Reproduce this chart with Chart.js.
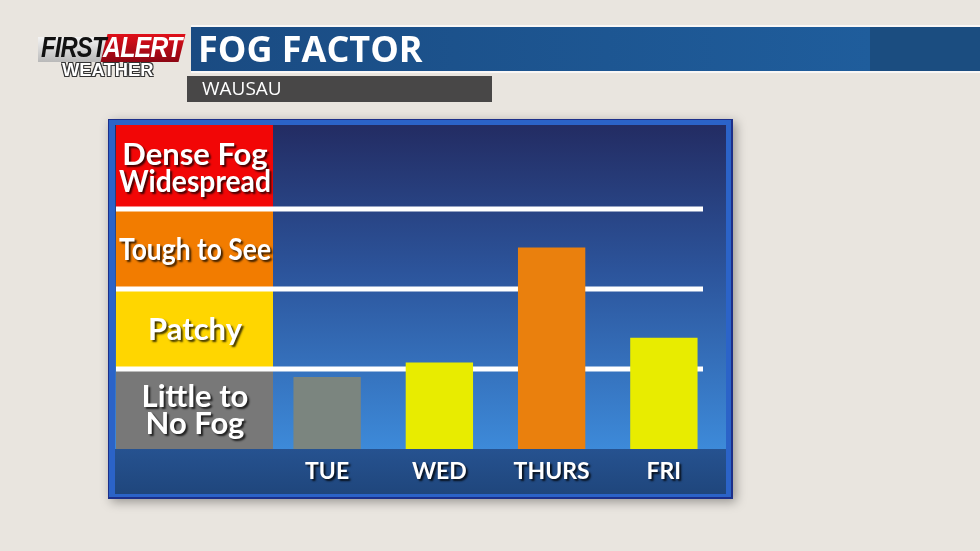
<!DOCTYPE html>
<html>
<head>
<meta charset="utf-8">
<script src="https://cdn.jsdelivr.net/npm/chart.js@4.4.1/dist/chart.umd.min.js"></script>
<style>
  html, body { margin: 0; padding: 0; }
  body { width: 980px; height: 551px; position: relative; overflow: hidden; background: #e9e5df; font-family: 'Open Sans', sans-serif; }
  #fog { position: absolute; left: 0; top: 0; }
  .titlebar { position: absolute; left: 191px; top: 27px; width: 789px; height: 44px;
    background: linear-gradient(90deg, #1a4b82 0%, #1f5d9c 86%, #1b4d80 86%, #1b4d80 100%);
    box-shadow: 0 -2px 0 rgba(255,255,255,0.7), 0 2px 0 rgba(255,255,255,0.7); }
  .titlebar span { position: absolute; left: 7px; top: -3px; color: #fff; font: 700 36px 'Open Sans', sans-serif; letter-spacing: 0px; }
  .subbar { position: absolute; left: 187px; top: 76px; width: 305px; height: 26px; background: rgba(58,58,58,0.92); }
  .subbar span { position: absolute; left: 15px; top: -1px; color: #fff; font: 400 19px 'Open Sans', sans-serif; }
  .logo { position: absolute; left: 36px; top: 34px; width: 150px; height: 46px; }
  .logo .silver { position: absolute; left: 2px; top: 3px; width: 74px; height: 25px;
    background: linear-gradient(180deg, #f4f4f4, #b9b9b9); }
  .logo .red { position: absolute; left: 68px; top: 0px; width: 78px; height: 28px;
    background: linear-gradient(180deg, #e0101a, #8c0613); transform: skewX(-14deg); }
  .logo .first { position: absolute; left: 5px; top: -3px; font: italic 900 29px 'Liberation Sans', sans-serif; color: #111;
    transform: scaleX(0.82); transform-origin: left top; letter-spacing: -1px; }
  .logo .alert { position: absolute; left: 67px; top: -3px; font: italic 900 29px 'Liberation Sans', sans-serif; color: #fff;
    transform: scaleX(0.86); transform-origin: left top; letter-spacing: -1px; }
  .logo .wx { position: absolute; left: 26px; top: 26px; font: 900 18px 'Liberation Sans', sans-serif; color: #fff;
    transform: scaleX(1.02); transform-origin: left top;
    text-shadow: -1px -1px 0 #333, 1px -1px 0 #333, -1px 1px 0 #333, 1px 1px 0 #333; }
</style>
</head>
<body>
<canvas id="fog" width="980" height="551"></canvas>
<div class="logo">
  <div class="silver"></div>
  <div class="red"></div>
  <div class="first">FIRST</div>
  <div class="alert">ALERT</div>
  <div class="wx">WEATHER</div>
</div>
<div class="titlebar"><span>FOG FACTOR</span></div>
<div class="subbar"><span>WAUSAU</span></div>
<script>
const days = ['TUE', 'WED', 'THURS', 'FRI'];
const fogLevel = [0.9, 1.08, 2.52, 1.39];
const barColors = ['#7b857f', '#e8ec00', '#ea800d', '#e8ec00'];

const bandNames = [['Little to', 'No Fog'], ['Patchy'], ['Tough to See'], ['Dense Fog', 'Widespread']];
const bandColors = ['#787878', '#ffd600', '#f27c00', '#f20606'];
const bandLines = [1, 2, 3];

const ctx = document.getElementById('fog').getContext('2d');

const panelPlugin = {
    id: 'panel',
    beforeDraw(chart) {
        const c = chart.ctx;
        const area = chart.chartArea;
        const y = chart.scales.y;
        const left = 108, right = 733, top = 119, bottom = 499;
        const inL = 115, inR = 726, inT = 125, inB = 494;
        const boxR = area.left + 2;

        c.save();
        // panel with shadow
        c.shadowColor = 'rgba(0,0,0,0.35)';
        c.shadowBlur = 10;
        c.shadowOffsetX = 3;
        c.shadowOffsetY = 3;
        c.fillStyle = '#1c2f8a';
        c.fillRect(left, top, right - left, bottom - top);
        c.shadowColor = 'transparent';
        c.fillStyle = '#2b63c8';
        c.fillRect(left + 1, top + 1, right - left - 3, bottom - top - 3);

        // interior gradient
        const g = c.createLinearGradient(0, inT, 0, area.bottom);
        g.addColorStop(0, '#232c63');
        g.addColorStop(0.45, '#2c549b');
        g.addColorStop(1, '#3d8ad9');
        c.fillStyle = g;
        c.fillRect(inL, inT, inR - inL, area.bottom - inT);

        // bottom bar
        const gb = c.createLinearGradient(0, area.bottom, 0, inB);
        gb.addColorStop(0, '#265290');
        gb.addColorStop(1, '#1f467c');
        c.fillStyle = gb;
        c.fillRect(inL, area.bottom, inR - inL, inB - area.bottom);

        // category boxes
        bandNames.forEach((names, i) => {
            const yTop = i === bandNames.length - 1 ? inT : y.getPixelForValue(i + 1);
            const yBot = y.getPixelForValue(i);
            c.fillStyle = bandColors[i];
            c.fillRect(inL + 1, yTop, boxR - inL - 1, yBot - yTop);
        });

        // category labels
        c.font = 'bold 31px "Liberation Sans Narrow", "Lato", sans-serif';
        c.textAlign = 'center';
        c.textBaseline = 'middle';
        c.fillStyle = '#ffffff';
        c.shadowColor = 'rgba(0,0,0,0.75)';
        c.shadowOffsetX = 2;
        c.shadowOffsetY = 2;
        c.shadowBlur = 2;
        bandNames.forEach((names, i) => {
            const yTop = i === bandNames.length - 1 ? inT : y.getPixelForValue(i + 1);
            const mid = (yTop + y.getPixelForValue(i)) / 2 + 1;
            const cx = (inL + boxR) / 2 + 1;
            const lh = 27;
            names.forEach((t, k) => {
                c.fillText(t, cx, mid + (k - (names.length - 1) / 2) * lh, boxR - inL - 6);
            });
        });
        c.restore();

        // shadow for the day labels drawn by the x axis
        c.shadowColor = 'rgba(0,0,0,0.8)';
        c.shadowOffsetX = 2;
        c.shadowOffsetY = 2;
        c.shadowBlur = 2;
    },
    beforeDatasetsDraw(chart) {
        const c = chart.ctx;
        const y = chart.scales.y;
        c.shadowColor = 'transparent';
        c.shadowBlur = 0;
        c.shadowOffsetX = 0;
        c.shadowOffsetY = 0;
        c.save();
        c.strokeStyle = '#ffffff';
        c.lineWidth = 5;
        bandLines.forEach(v => {
            const py = y.getPixelForValue(v);
            c.beginPath();
            c.moveTo(116, py);
            c.lineTo(703, py);
            c.stroke();
        });
        c.restore();
    }
};

new Chart(ctx, {
    type: 'bar',
    data: {
        labels: days,
        datasets: [{
            data: fogLevel,
            backgroundColor: barColors,
            borderWidth: 0,
            barPercentage: 0.6,
            categoryPercentage: 1.0
        }]
    },
    options: {
        responsive: false,
        animation: false,
        devicePixelRatio: 1,
        layout: { padding: { left: 271, right: 260, top: 129, bottom: 58 } },
        plugins: {
            legend: { display: false },
            tooltip: { enabled: false }
        },
        scales: {
            x: {
                grid: { display: false, drawTicks: false },
                border: { display: false },
                ticks: {
                    color: '#ffffff',
                    font: { family: 'Lato', weight: 'bold', size: 23 },
                    padding: 9
                },
                afterFit: (scale) => { scale.height = 44; }
            },
            y: {
                display: false,
                min: 0,
                max: 4
            }
        }
    },
    plugins: [panelPlugin]
});
</script>
</body>
</html>
